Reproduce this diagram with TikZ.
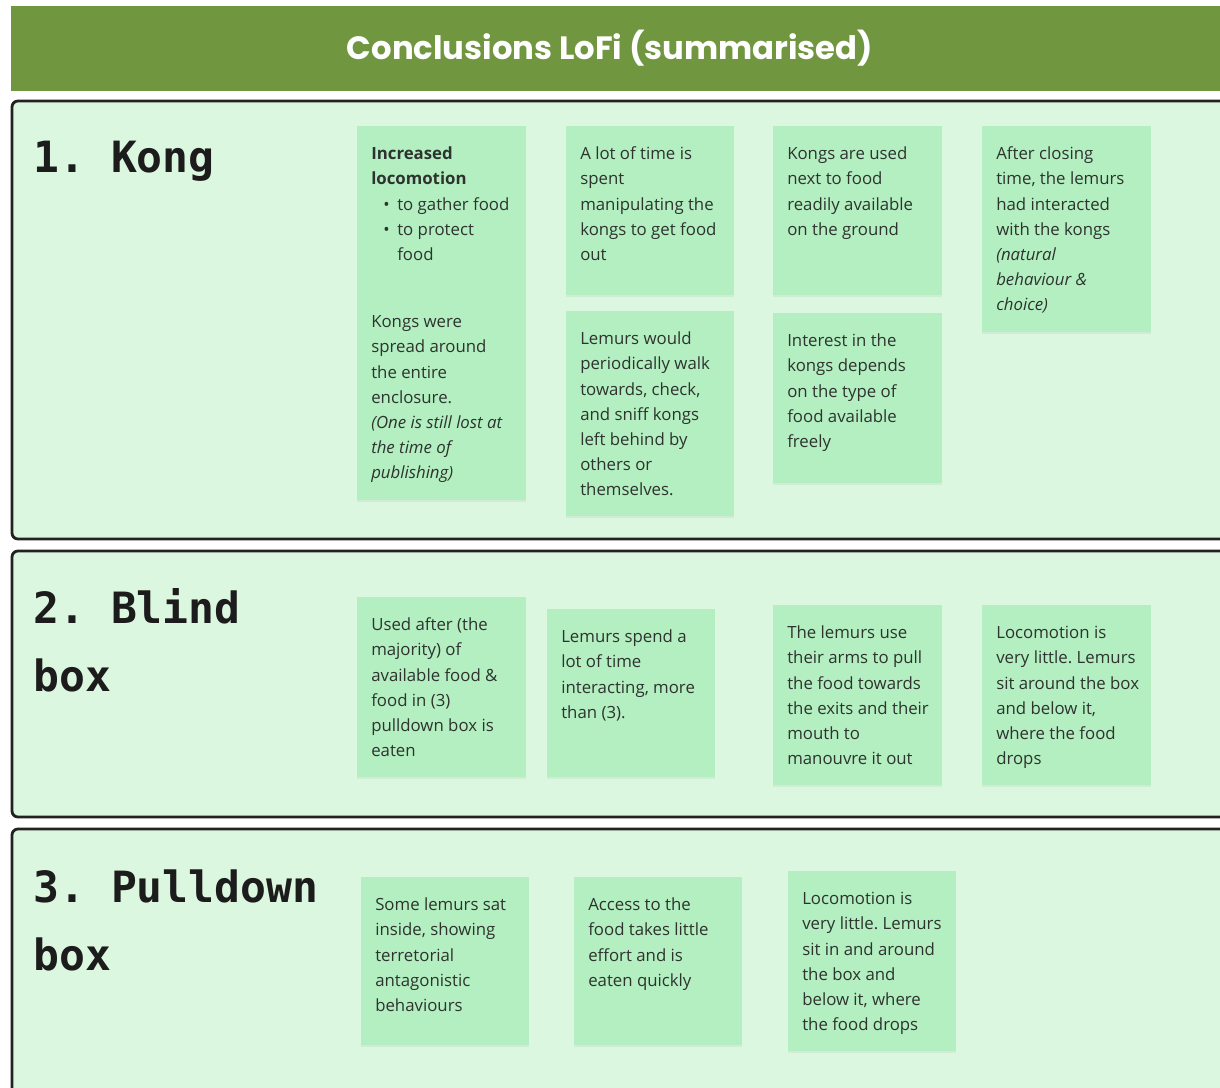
\documentclass[tikz,border=0pt]{standalone}
\usepackage{fontspec}
\setmainfont{Open Sans}
\newfontfamily\headfont{DejaVu Sans Mono}
\newfontfamily\titlefont{Poppins}
\usetikzlibrary{shadows}
\frenchspacing
\definecolor{headgreen}{HTML}{709740}
\definecolor{secfill}{HTML}{DCF7E0}
\definecolor{notefill}{HTML}{B3EFC0}
\definecolor{txtcol}{HTML}{2E332F}
\definecolor{bordercol}{HTML}{222222}
\definecolor{headtxt}{HTML}{1C1C1C}
\newcommand\stickynote[6]{%
  \node[note, minimum width=#4*0.75pt, minimum height=#5*0.75pt] (#1) at (#2,#3) {};
  \node[notetxt] (#1t) at ([xshift=10.5pt]#1.north west) {\rule{0pt}{25pt}#6};
}
\newcommand\bul{\makebox[19.5pt][l]{\hspace{9pt}\textbullet}}
\newcommand\ind{\hspace*{19.5pt}}
\begin{document}
\frenchspacing
\begin{tikzpicture}[x=0.75pt,y=-0.75pt,
  secbox/.style={draw=bordercol, line width=2.1pt, fill=secfill, rounded corners=4.5pt},
  note/.style={fill=notefill, anchor=north west, inner sep=0pt,
    drop shadow={shadow xshift=0pt, shadow yshift=-1.5pt, opacity=0.10}},
  notetxt/.style={anchor=north west, inner sep=0pt, align=left, text=txtcol,
    font=\frenchspacing\fontsize{12.6}{18.9}\selectfont},
  head/.style={anchor=north west, inner sep=0pt, align=left, text=headtxt,
    font=\frenchspacing\headfont\bfseries\fontsize{32.3}{51}\selectfont}]
\useasboundingbox (0,0) rectangle (1220,1088);
\fill[white] (0,0) rectangle (1220,1088);
% header
\fill[headgreen] (11,6) rectangle (1230,91);
\node[anchor=base, inner sep=0pt, text=white, font=\titlefont\bfseries\fontsize{24.2}{29}\selectfont] (title) at (610,60) {Conclusions LoFi (summarised)};
% sections
\draw[secbox] (12,101) rectangle (1250,539);
\draw[secbox] (12,551) rectangle (1250,817);
\draw[secbox] (12,829) rectangle (1250,1120);
\node[head] (h1) at (33,132) {\rule{0pt}{30pt}1. Kong};
\node[head] (h2) at (33,583) {\rule{0pt}{30pt}2. Blind\\box};
\node[head] (h3) at (33,862) {\rule{0pt}{30pt}3. Pulldown\\box};
% section 1
\stickynote{k1}{357}{126}{169}{178}{\textbf{Increased}\\\textbf{locomotion}\\\bul to gather food\\\bul to protect\\\ind food}
\stickynote{k2}{357}{294}{169}{206}{Kongs were\\spread around\\the entire\\enclosure.\\\textit{(One is still lost at}\\\textit{the time of}\\\textit{publishing)}}
\stickynote{k3}{566}{126}{168}{169}{A lot of time is\\spent\\manipulating the\\kongs to get food\\out}
\stickynote{k4}{566}{311}{168}{205}{Lemurs would\\periodically walk\\towards, check,\\and sniff kongs\\left behind by\\others or\\themselves.}
\stickynote{k5}{773}{126}{169}{169}{Kongs are used\\next to food\\readily available\\on the ground}
\stickynote{k6}{773}{313}{169}{170}{Interest in the\\kongs depends\\on the type of\\food available\\freely}
\stickynote{k7}{982}{126}{169}{206}{After closing\\time, the lemurs\\had interacted\\with the kongs\\\textit{(natural}\\\textit{behaviour \&}\\\textit{choice)}}
% section 2
\stickynote{b1}{357}{597}{169}{180}{Used after (the\\majority) of\\available food \&\\food in (3)\\pulldown box is\\eaten}
\stickynote{b2}{547}{609}{168}{168}{Lemurs spend a\\lot of time\\interacting, more\\than (3).}
\stickynote{b3}{773}{605}{169}{180}{The lemurs use\\their arms to pull\\the food towards\\the exits and their\\mouth to\\manouvre it out}
\stickynote{b4}{982}{605}{169}{180}{Locomotion is\\very little. Lemurs\\sit around the box\\and below it,\\where the food\\drops}
% section 3
\stickynote{c1}{361}{877}{168}{168}{Some lemurs sat\\inside, showing\\terretorial\\antagonistic\\behaviours}
\stickynote{c2}{574}{877}{168}{168}{Access to the\\food takes little\\effort and is\\eaten quickly}
\stickynote{c3}{788}{871}{168}{180}{Locomotion is\\very little. Lemurs\\sit in and around\\the box and\\below it, where\\the food drops}
\end{tikzpicture}
\end{document}
